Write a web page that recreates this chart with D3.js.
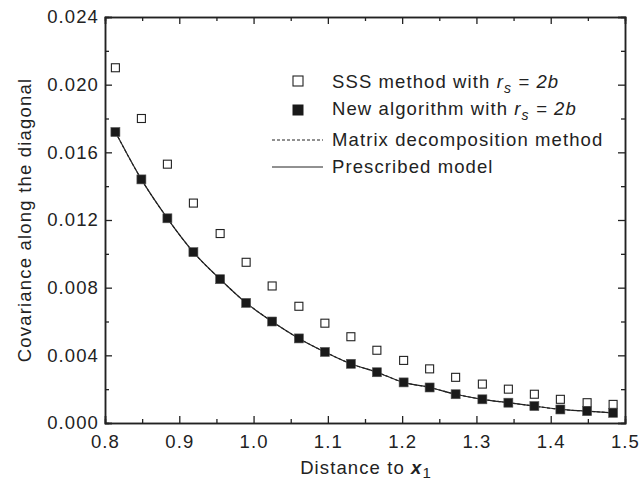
<!DOCTYPE html>
<html>
<head>
<meta charset="utf-8">
<script src="https://cdn.jsdelivr.net/npm/d3@7"></script>
<style>
  body { margin: 0; background: #fff; }
  text { font-family: "Liberation Sans", Arial, sans-serif; fill: #222; letter-spacing: 1.1px; }
</style>
</head>
<body>
<svg id="chart"></svg>
<script>
const distance = [0.814, 0.849, 0.884, 0.919, 0.955, 0.990, 1.025, 1.061, 1.096, 1.131,
                  1.166, 1.202, 1.237, 1.272, 1.308, 1.343, 1.378, 1.413, 1.449, 1.484];
const sss = [0.0210, 0.0180, 0.0153, 0.0130, 0.0112, 0.0095, 0.0081, 0.0069, 0.0059, 0.0051,
             0.0043, 0.0037, 0.0032, 0.0027, 0.0023, 0.0020, 0.0017, 0.0014, 0.0012, 0.0011];
const newAlg = [0.0172, 0.0144, 0.0121, 0.0101, 0.0085, 0.0071, 0.0060, 0.0050, 0.0042, 0.0035,
                0.0030, 0.0024, 0.0021, 0.0017, 0.0014, 0.0012, 0.0010, 0.0008, 0.0007, 0.0006];
const matrixDecomp = [0.0172, 0.0144, 0.0121, 0.0101, 0.0085, 0.0071, 0.0060, 0.0050, 0.0042, 0.0035,
                      0.0030, 0.0024, 0.0021, 0.0017, 0.0014, 0.0012, 0.0010, 0.0008, 0.0007, 0.0006];
const prescribed = [0.0172, 0.0144, 0.0121, 0.0101, 0.0085, 0.0071, 0.0060, 0.0050, 0.0042, 0.0035,
                    0.0030, 0.0024, 0.0021, 0.0017, 0.0014, 0.0012, 0.0010, 0.0008, 0.0007, 0.0006];
const xTicks = [0.8, 0.9, 1.0, 1.1, 1.2, 1.3, 1.4, 1.5];
const yTicks = [0, 0.004, 0.008, 0.012, 0.016, 0.020, 0.024];

const width = 641, height = 481;
const margin = { top: 17, right: 16, bottom: 58, left: 105 };
const fs = "18.5px";

const svg = d3.select("#chart")
    .attr("width", width)
    .attr("height", height);

const x = d3.scaleLinear().domain([0.8, 1.5]).range([margin.left, width - margin.right]);
const y = d3.scaleLinear().domain([0, 0.024]).range([height - margin.bottom, margin.top]);

const xMinor = d3.range(0.85, 1.5, 0.1);
const yMinor = d3.range(0.002, 0.024, 0.004);

function axis(gen, ticks, size, translate, fmt) {
    const g = svg.append("g")
        .attr("transform", translate)
        .call(gen.tickValues(ticks).tickSize(size).tickFormat(fmt || (() => "")));
    g.select(".domain").attr("stroke", "#222").attr("stroke-width", 1.5);
    g.selectAll(".tick line").attr("stroke", "#222").attr("stroke-width", 1.3);
    return g;
}

const atBottom = `translate(0,${y(0)})`, atTop = `translate(0,${y(0.024)})`;
const atLeft = `translate(${x(0.8)},0)`, atRight = `translate(${x(1.5)},0)`;

// major + minor ticks, all pointing inward
const xb = axis(d3.axisBottom(x), xTicks, -7, atBottom, d3.format(".1f"));
xb.selectAll(".tick text").attr("y", 12).style("font-size", fs).attr("fill", "#222");
axis(d3.axisBottom(x), xMinor, -4, atBottom);
axis(d3.axisTop(x), xTicks, -7, atTop);
axis(d3.axisTop(x), xMinor, -4, atTop);

const yl = axis(d3.axisLeft(y), yTicks, -7, atLeft, d3.format(".3f"));
yl.selectAll(".tick text").attr("x", -6).style("font-size", fs).attr("fill", "#222");
axis(d3.axisLeft(y), yMinor, -4, atLeft);
axis(d3.axisRight(y), yTicks, -7, atRight);
axis(d3.axisRight(y), yMinor, -4, atRight);

// lines
const pts = vals => distance.map((d, i) => [d, vals[i]]);
const line = d3.line().x(d => x(d[0])).y(d => y(d[1])).curve(d3.curveMonotoneX);

svg.append("path").attr("d", line(pts(prescribed)))
    .attr("fill", "none").attr("stroke", "#222").attr("stroke-width", 1.2);
svg.append("path").attr("d", line(pts(matrixDecomp)))
    .attr("fill", "none").attr("stroke", "#222").attr("stroke-width", 1.1)
    .attr("stroke-dasharray", "3,2");

// markers
svg.selectAll(".open").data(pts(sss)).enter().append("rect")
    .attr("x", d => x(d[0]) - 4).attr("y", d => y(d[1]) - 4)
    .attr("width", 8).attr("height", 8)
    .attr("fill", "#fff").attr("stroke", "#222").attr("stroke-width", 1.1);

svg.selectAll(".filled").data(pts(newAlg)).enter().append("rect")
    .attr("x", d => x(d[0]) - 4.5).attr("y", d => y(d[1]) - 4.5)
    .attr("width", 9).attr("height", 9)
    .attr("fill", "#1a1a1a").attr("stroke", "#555").attr("stroke-width", 0.6);

// legend
const lg = svg.append("g").style("font-size", fs);
const symY = [81, 110, 140, 167];
const baseY = [88, 115, 146, 173];
const lx = 298, tx = 332;

lg.append("rect").attr("x", lx - 5).attr("y", symY[0] - 5).attr("width", 10).attr("height", 10)
    .attr("fill", "#fff").attr("stroke", "#222").attr("stroke-width", 1.1);
lg.append("rect").attr("x", lx - 5.5).attr("y", symY[1] - 5.5).attr("width", 11).attr("height", 11)
    .attr("fill", "#1a1a1a");
lg.append("line").attr("x1", 272).attr("x2", 323).attr("y1", symY[2]).attr("y2", symY[2])
    .attr("stroke", "#222").attr("stroke-width", 1).attr("stroke-dasharray", "3,2");
lg.append("line").attr("x1", 272).attr("x2", 323).attr("y1", symY[3]).attr("y2", symY[3])
    .attr("stroke", "#222").attr("stroke-width", 1);

function rsLabel(t, prefix, yy) {
    const el = t.append("text").attr("x", tx).attr("y", yy);
    el.append("tspan").text(prefix);
    el.append("tspan").attr("font-style", "italic").text("r");
    el.append("tspan").attr("font-style", "italic").style("font-size", "14px").attr("dy", 5).text("s");
    el.append("tspan").attr("font-style", "italic").attr("dy", -5).text(" = 2b");
}
rsLabel(lg, "SSS method with ", baseY[0]);
rsLabel(lg, "New algorithm with ", baseY[1]);
lg.append("text").attr("x", tx).attr("y", baseY[2]).text("Matrix decomposition method");
lg.append("text").attr("x", tx).attr("y", baseY[3]).text("Prescribed model");

// axis titles
const xt = svg.append("text").attr("x", 366).attr("y", 474).attr("text-anchor", "middle")
    .style("font-size", fs);
xt.append("tspan").text("Distance to ");
xt.append("tspan").attr("font-weight", "bold").attr("font-style", "italic").text("x");
xt.append("tspan").style("font-size", "15px").attr("dy", 4).text("1");

svg.append("text").attr("transform", `translate(31,220) rotate(-90)`)
    .attr("text-anchor", "middle").style("font-size", fs)
    .style("letter-spacing", "1.2px")
    .text("Covariance along the diagonal");
</script>
</body>
</html>
